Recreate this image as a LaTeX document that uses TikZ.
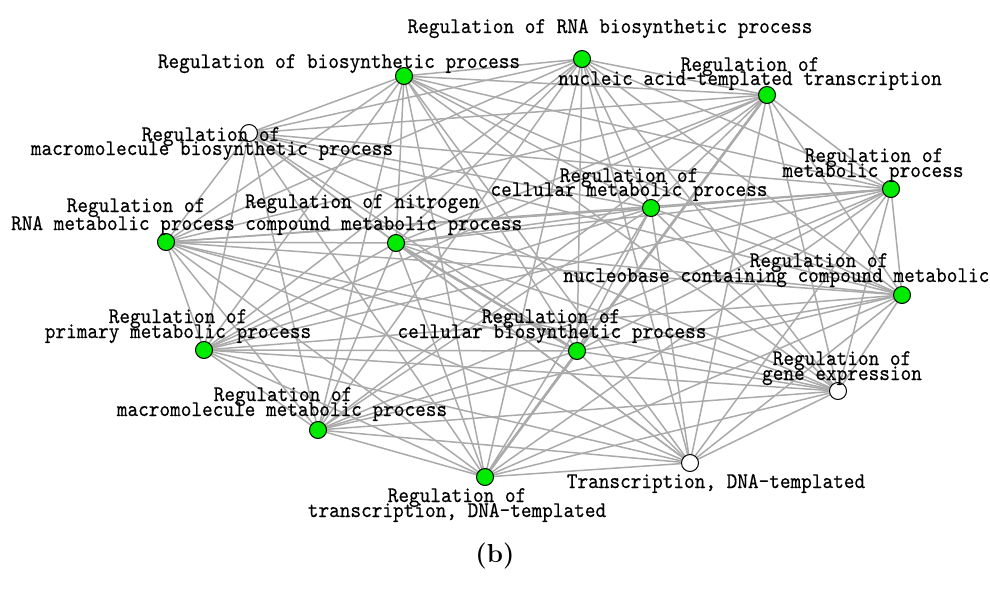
\documentclass[tikz,border=0pt]{standalone}
\usepackage{fontspec}
\usetikzlibrary{backgrounds}
\newfontfamily\lblfont[FakeStretch=0.906,FakeBold=0.35]{lmmono10-regular.otf}
\definecolor{nodegreen}{RGB}{0,235,0}
\definecolor{edgegray}{RGB}{170,170,170}
\begin{document}
\begin{tikzpicture}[x=1pt,y=-1pt,
  gonode/.style={circle,draw=black,line width=1pt,fill=nodegreen,minimum size=17pt,inner sep=0pt},
  whnode/.style={circle,draw=black,line width=1pt,fill=white,minimum size=17pt,inner sep=0pt},
  edge/.style={draw=edgegray,line width=1.5pt},
  thickedge/.style={draw=edgegray,line width=2.5pt},
  lbl/.style={font=\lblfont\fontsize{22.4}{22.4}\selectfont,anchor=base,inner sep=0pt,text=black},
  lblw/.style={lbl,anchor=base west}]
\path[use as bounding box] (0,0) rectangle (990,592);
% nodes
\node[gonode] (n1) at (582,59) {};
\node[gonode] (n2) at (404,76) {};
\node[gonode] (n3) at (767,95) {};
\node[whnode] (n4) at (249,133) {};
\node[gonode] (n5) at (891,189) {};
\node[gonode] (n6) at (651,208) {};
\node[gonode] (n7) at (166,242) {};
\node[gonode] (n8) at (396,243) {};
\node[gonode] (n9) at (902,295) {};
\node[gonode] (n10) at (204,350) {};
\node[gonode] (n11) at (577,351) {};
\node[whnode] (n12) at (838,391) {};
\node[gonode] (n13) at (318,430) {};
\node[gonode] (n14) at (485,477) {};
\node[whnode] (n15) at (690,463) {};
% edges
\begin{pgfonlayer}{background}
\foreach \i in {1,...,15}{
  \foreach \j in {1,...,15}{
    \ifnum\i<\j \draw[edge] (n\i.center) -- (n\j.center);\fi
  }
}
\draw[thickedge] (n3.center) -- (n14.center);
\draw[thickedge] (n8.center) -- (n11.center);
\end{pgfonlayer}
% labels
\node[lbl] (t1) at (610,33) {Regulation of RNA biosynthetic process};
\node[lbl] (t2) at (339,68) {Regulation of biosynthetic process};
\node[lbl] (t3a) at (750,71) {Regulation of};
\node[lbl] (t3b) at (750,85) {nucleic acid-templated transcription};
\node[lbl] (t4a) at (211,141) {Regulation of};
\node[lbl] (t4b) at (212,155) {macromolecule biosynthetic process};
\node[lbl] (t5a) at (874,162) {Regulation of};
\node[lbl] (t5b) at (873,177) {metabolic process};
\node[lbl] (t6a) at (629,182) {Regulation of};
\node[lbl] (t6b) at (629,196) {cellular metabolic process};
\node[lbl] (t7a) at (136,212) {Regulation of};
\node[lbl] (t7b) at (123,230) {RNA metabolic process};
\node[lblw] (t8a) at (245,208) {Regulation of nitrogen};
\node[lblw] (t8b) at (245,230) {compound metabolic process};
\node[lbl] (t9a) at (819,267) {Regulation of};
\node[lblw] (t9b) at (563,282) {nucleobase containing compound metabolic};
\node[lbl] (t10a) at (178,323) {Regulation of};
\node[lbl] (t10b) at (178,338) {primary metabolic process};
\node[lbl] (t11a) at (551,323) {Regulation of};
\node[lbl] (t11b) at (552,338) {cellular biosynthetic process};
\node[lbl] (t12a) at (842,365) {Regulation of};
\node[lbl] (t12b) at (842,380) {gene expression};
\node[lbl] (t13a) at (283,401) {Regulation of};
\node[lbl] (t13b) at (282,416) {macromolecule metabolic process};
\node[lbl] (t14a) at (457,502) {Regulation of};
\node[lbl] (t14b) at (457,517) {transcription, DNA-templated};
\node[lbl] (t15) at (716,488) {Transcription, DNA-templated};
\node[anchor=base,inner sep=0pt,font=\bfseries\fontsize{26}{26}\selectfont] (cap) at (495,562) {(b)};
\end{tikzpicture}
\end{document}
